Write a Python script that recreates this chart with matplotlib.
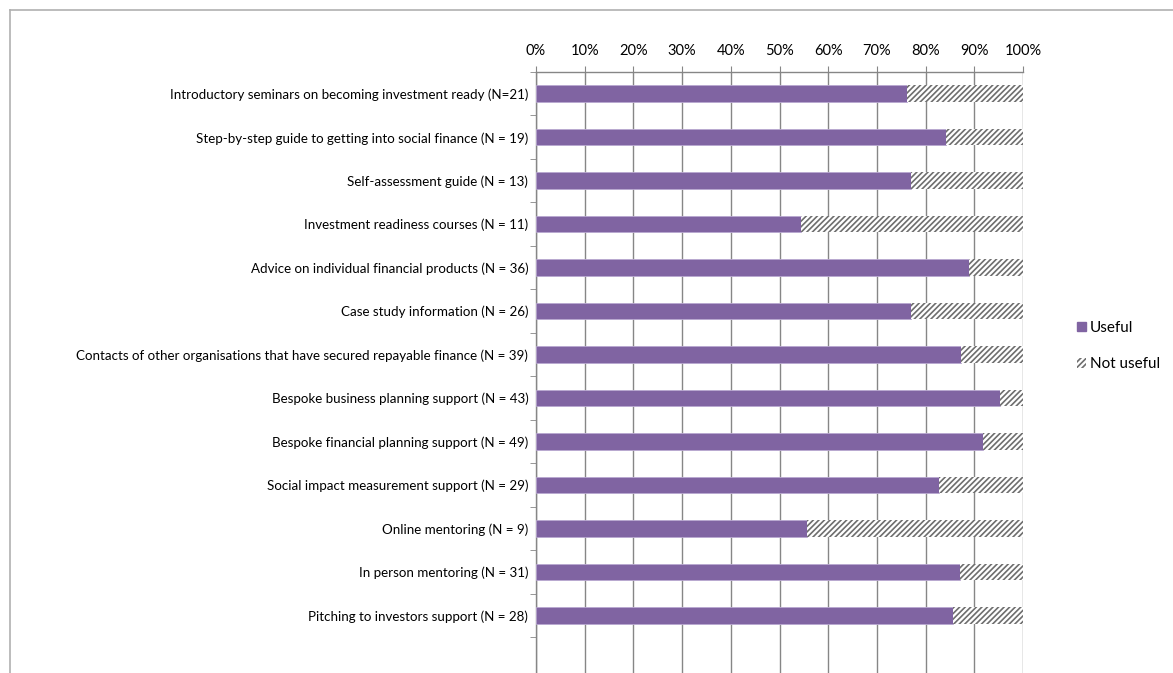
import matplotlib
matplotlib.use("Agg")
import matplotlib.pyplot as plt
from matplotlib.patches import Patch
from matplotlib.lines import Line2D
import numpy as np

categories = [
    "Introductory seminars on becoming investment ready (N=21)",
    "Step-by-step guide to getting into social finance (N = 19)",
    "Self-assessment guide (N = 13)",
    "Investment readiness courses (N = 11)",
    "Advice on individual financial products (N = 36)",
    "Case study information (N = 26)",
    "Contacts of other organisations that have secured repayable finance (N = 39)",
    "Bespoke business planning support (N = 43)",
    "Bespoke financial planning support (N = 49)",
    "Social impact measurement support (N = 29)",
    "Online mentoring (N = 9)",
    "In person mentoring (N = 31)",
    "Pitching to investors support (N = 28)",
]
useful = [76.2, 84.2, 76.9, 54.5, 88.9, 76.9, 87.2, 95.3, 91.8, 82.8, 55.6, 87.1, 85.7]
not_useful = [100 - u for u in useful]
xtick_values = list(range(0, 101, 10))
xtick_labels = [f"{v}%" for v in xtick_values]

plt.rcParams['font.family'] = ['Lato', 'DejaVu Sans']
plt.rcParams['hatch.linewidth'] = 1.2

W, H = 1173, 673
fig = plt.figure(figsize=(W / 100, H / 100), dpi=100)
ax = fig.add_axes([536 / W, 0, (1023 - 536) / W, 1 - 72 / H])

gray = '#868686'
purple = '#8064A2'
y = np.arange(len(categories))
ax.barh(y, useful, height=0.38, color=purple, edgecolor='#b9a8d0', linewidth=0.6, zorder=3)
ax.barh(y, not_useful, left=useful, height=0.38, color='white', edgecolor='#6e6e6e',
        hatch='//////', linewidth=0, zorder=3)

ax.xaxis.tick_top()
ax.set_xticks(xtick_values)
ax.set_xticklabels(xtick_labels, fontsize=10.5)
ax.tick_params(axis='x', which='major', length=4, color=gray, pad=6)
ax.grid(axis='x', color=gray, linewidth=1.0, zorder=0)

ax.set_yticks(y)
ax.set_yticklabels(categories, fontsize=9.6)
ax.tick_params(axis='y', which='major', length=0, pad=5.5)
ax.set_yticks(np.arange(-0.5, 12.6, 1.0), minor=True)
ax.tick_params(axis='y', which='minor', length=4, color=gray)

ax.set_xlim(0, 100)
ax.set_ylim(13.32, -0.5)

for s in ['right', 'bottom']:
    ax.spines[s].set_visible(False)
for s in ['top', 'left']:
    ax.spines[s].set_color(gray)
    ax.spines[s].set_linewidth(1.0)

# outer chart frame
fig.add_artist(Line2D([10 / W, 1.0], [1 - 9.5 / H, 1 - 9.5 / H], color='#b0b0b0', linewidth=1.2,
                      transform=fig.transFigure))
fig.add_artist(Line2D([10 / W, 10 / W], [0, 1 - 9.5 / H], color='#b0b0b0', linewidth=1.2,
                      transform=fig.transFigure))

handles = [Patch(facecolor=purple, edgecolor=purple, label='Useful'),
           Patch(facecolor='white', edgecolor='#6e6e6e', hatch='//////', linewidth=0, label='Not useful')]
fig.legend(handles=handles, loc='center left', bbox_to_anchor=(1063 / W, 1 - 346 / H),
           frameon=False, fontsize=11, handlelength=0.6, handleheight=0.6,
           handletextpad=0.25, labelspacing=1.45)

fig.savefig('out.png', dpi=100)
